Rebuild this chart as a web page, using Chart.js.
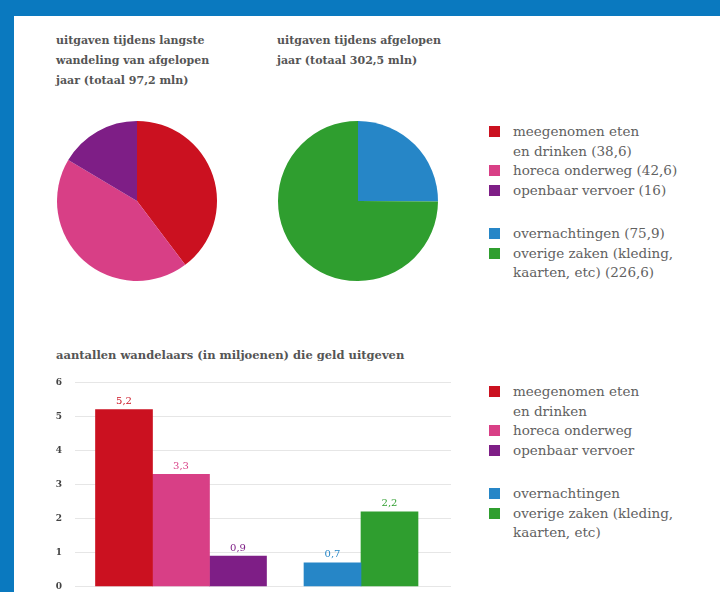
<!DOCTYPE html>
<html>
<head>
<meta charset="utf-8">
<script src="https://cdn.jsdelivr.net/npm/chart.js@4"></script>
<style>
    html, body {margin: 0; padding: 0;}
    body {width: 720px; height: 592px; background: #0a79bf; overflow: hidden; position: relative;}
    .panel {position: absolute; left: 14px; top: 16px; right: 0; bottom: 0; background: #fff;}
    .title {position: absolute; font-family: 'DejaVu Serif', serif; font-weight: bold; font-size: 11px; line-height: 20px; color: #555; white-space: pre-line;}
    .chart_legend {position: absolute; left: 489px; font-family: 'DejaVu Serif', serif; font-size: 13.5px; line-height: 19.5px; color: #616161;}
    .chart_legend .item {margin: 0; padding-left: 24px; position: relative; white-space: pre-line;}
    .chart_legend .item i {position: absolute; left: 0; top: 4px; width: 11px; height: 11px;}
    .chart_legend .gap {height: 24px;}
    canvas {position: absolute;}
</style>
</head>
<body>
<div class="panel"></div>

<div class="title" style="left:56px; top:31px;">uitgaven tijdens langste
wandeling van afgelopen
jaar (totaal 97,2 mln)</div>
<div class="title" style="left:277px; top:31px;">uitgaven tijdens afgelopen
jaar (totaal 302,5 mln)</div>
<div class="title" style="left:56px; top:345px; font-size:11.5px;">aantallen wandelaars (in miljoenen) die geld uitgeven</div>

<canvas id="pie_walk" width="170" height="170" style="left:52px; top:116px;"></canvas>
<canvas id="pie_year" width="170" height="170" style="left:273px; top:116px;"></canvas>
<div class="chart_legend" id="legend_pie" style="top:122px;"></div>

<canvas id="bar_walkers" width="440" height="241" style="left:46px; top:364px;"></canvas>
<div class="chart_legend" id="legend_bar" style="top:382px;"></div>

<script>
//uitgaven (mln) - langste wandeling
const walkLabels = ['meegenomen eten\nen drinken', 'horeca onderweg', 'openbaar vervoer'];
const walkValues = [38.6, 42.6, 16];
const walkColors = ['#cb1120', '#d83f86', '#7e1e86'];

//uitgaven (mln) - afgelopen jaar
const yearLabels = ['overnachtingen', 'overige zaken (kleding,\nkaarten, etc)'];
const yearValues = [75.9, 226.6];
const yearColors = ['#2686c7', '#2f9e2f'];

//aantallen wandelaars (mln)
const groupLabels = ['langste wandeling', 'afgelopen jaar'];
const walkerValues = [5.2, 3.3, 0.9, 0.7, 2.2];
const walkerGroup = [0, 0, 0, 1, 1];
const yMin = 0, yMax = 6, yStep = 1;

const fmt = v => String(v).replace('.', ',');

//pie - 생성
function createPie(canvasId, labels, data, colors) {
    return new Chart(document.getElementById(canvasId), {
        type: 'pie',
        data: {
            labels,
            datasets: [{data, backgroundColor: colors, borderWidth: 0}]
        },
        options: {
            responsive: false,
            animation: false,
            layout: {padding: 5},
            plugins: {legend: {display: false}, tooltip: {enabled: false}}
        }
    });
}

createPie('pie_walk', walkLabels, walkValues, walkColors);
createPie('pie_year', yearLabels, yearValues, yearColors);

//legend - 생성
function createLegend(elId, groups) {
    const el = document.getElementById(elId);
    groups.forEach((g, gi) => {
        if (gi > 0) el.insertAdjacentHTML('beforeend', '<div class="gap"></div>');
        g.labels.forEach((label, i) => {
            const text = g.values ? `${label} (${fmt(g.values[i])})` : label;
            el.insertAdjacentHTML('beforeend',
                `<p class="item"><i style="background:${g.colors[i]}"></i>${text}</p>`);
        });
    });
}

createLegend('legend_pie', [
    {labels: walkLabels, values: walkValues, colors: walkColors},
    {labels: yearLabels, values: yearValues, colors: yearColors}
]);
createLegend('legend_bar', [
    {labels: walkLabels, colors: walkColors},
    {labels: yearLabels, colors: yearColors}
]);

//bar - datasets (1 per categorie, null buiten eigen groep)
const barLabels = walkLabels.concat(yearLabels);
const barColors = walkColors.concat(yearColors);
const barDatasets = walkerValues.map((v, i) => ({
    label: barLabels[i],
    data: groupLabels.map((g, gi) => gi === walkerGroup[i] ? v : null),
    backgroundColor: barColors[i],
    borderWidth: 0
}));

//bar - waarde boven staaf
const valueLabels = {
    id: 'valueLabels',
    afterDatasetsDraw(chart) {
        const {ctx} = chart;
        ctx.save();
        ctx.font = '10px "DejaVu Serif", serif';
        ctx.textAlign = 'center';
        ctx.textBaseline = 'bottom';
        chart.data.datasets.forEach((ds, di) => {
            chart.getDatasetMeta(di).data.forEach((el, i) => {
                if (ds.data[i] === null) return;
                ctx.fillStyle = ds.backgroundColor;
                ctx.fillText(fmt(ds.data[i]), el.x, el.y - 3);
            });
        });
        ctx.restore();
    }
};

new Chart(document.getElementById('bar_walkers'), {
    type: 'bar',
    data: {labels: groupLabels, datasets: barDatasets},
    options: {
        responsive: false,
        animation: false,
        skipNull: true,
        barThickness: 57,
        layout: {padding: {top: 12, bottom: 6, left: 0, right: 35}},
        plugins: {legend: {display: false}, tooltip: {enabled: false}},
        scales: {
            x: {display: false, offset: true},
            y: {
                min: yMin,
                max: yMax,
                afterFit: scale => { scale.width = 45; },
                ticks: {
                    stepSize: yStep,
                    padding: 13,
                    color: '#444',
                    font: {family: 'DejaVu Serif', size: 9, weight: 'bold'}
                },
                grid: {color: '#e6e6e6', tickLength: 16, tickColor: '#e6e6e6'},
                border: {display: false}
            }
        }
    },
    plugins: [valueLabels]
});
</script>
</body>
</html>
